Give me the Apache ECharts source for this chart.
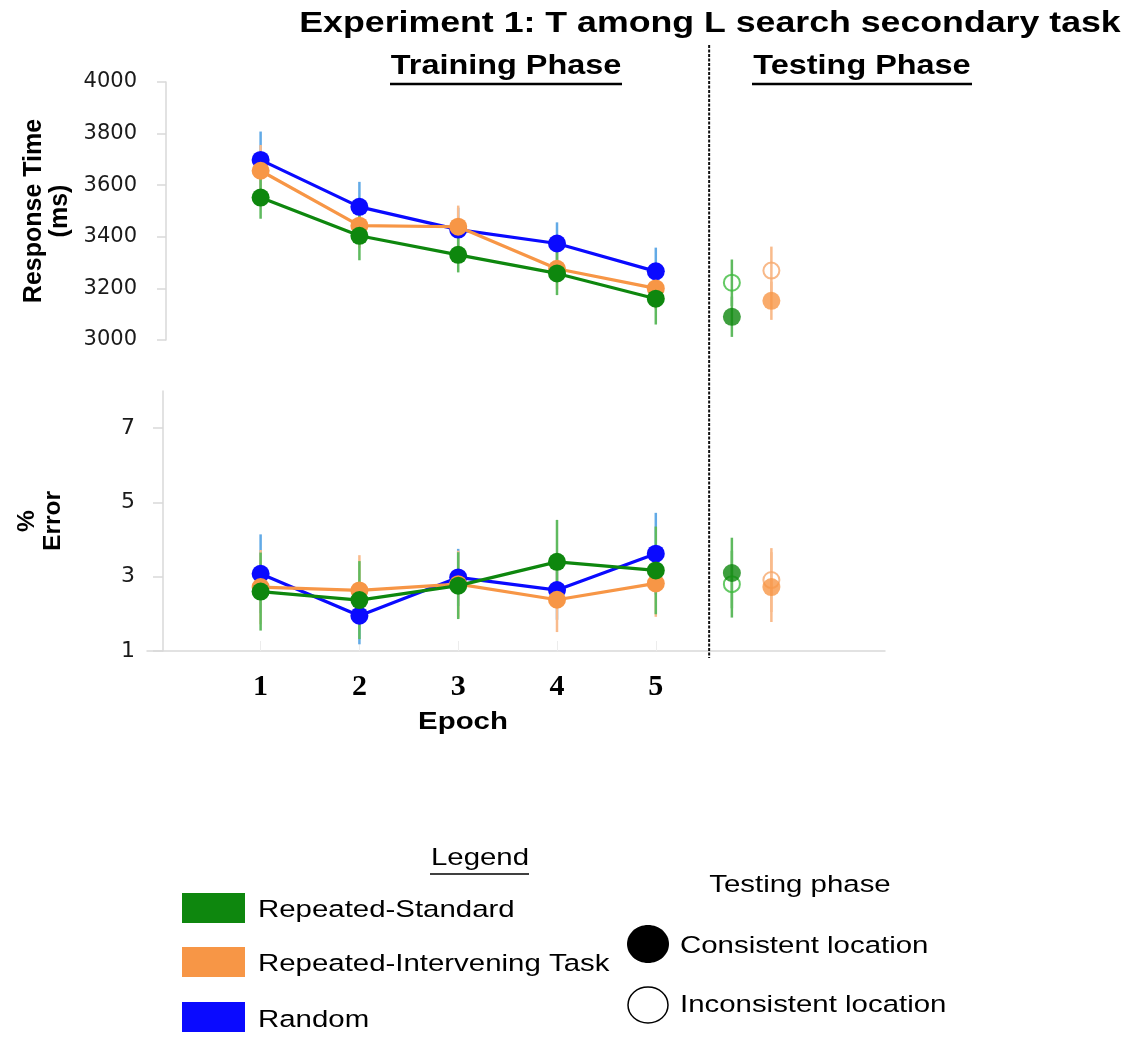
<!DOCTYPE html>
<html>
<head>
<meta charset="utf-8">
<script src="https://cdn.jsdelivr.net/npm/echarts@6/dist/echarts.min.js"></script>
<style>
  html, body { margin: 0; padding: 0; background: #ffffff; }
  #chart { width: 1134px; height: 1038px; }
</style>
</head>
<body>
<div id="chart"></div>
<script>
// ---- data ------------------------------------------------------------
const epochs = [1, 2, 3, 4, 5];

// Training phase: mean response time (ms) with error-bar half widths
const rtStandard        = [3552, 3404, 3330, 3258, 3160];
const rtStandardErr     = [82, 95, 68, 84, 100];
const rtIntervening     = [3656, 3443, 3439, 3276, 3200];
const rtInterveningErr  = [100, 85, 82, 80, 80];
const rtRandom          = [3698, 3516, 3428, 3374, 3266];
const rtRandomErr       = [110, 97, 85, 82, 92];

// Training phase: % error with error-bar half widths
const errStandard       = [2.6, 2.37, 2.76, 3.4, 3.17];
const errStandardErr    = [1.05, 1.05, 0.9, 1.13, 1.18];
const errIntervening    = [2.72, 2.63, 2.8, 2.38, 2.82];
const errInterveningErr = [1.0, 0.95, 0.9, 0.87, 0.9];
const errRandom         = [3.08, 1.95, 2.98, 2.64, 3.62];
const errRandomErr      = [1.06, 0.77, 0.77, 0.8, 1.1];

// Testing phase: [Repeated-Standard, Repeated-Intervening Task]
const testRtConsistent         = [3090, 3152];
const testRtConsistentErr      = [78, 74];
const testRtInconsistent       = [3222, 3269];
const testRtInconsistentErr    = [90, 93];
const testErrConsistent        = [3.1, 2.72];
const testErrConsistentErr     = [0.95, 0.94];
const testErrInconsistent      = [2.8, 2.91];
const testErrInconsistentErr   = [0.9, 0.86];

const errTicks = [1, 3, 5, 7];

// ---- layout / style ----------------------------------------------------
const TEST_X = [5.77, 6.17];      // x slots of the two testing-phase groups
const PHASE_DIVIDER = 5.54;       // x of the training/testing separator
const X_MIN = -0.15, X_MAX = 7.32;

const COL = {
  standard: '#0e870e', standardBar: '#5fba5f', standardOpen: '#3dbb3d',
  intervening: '#f79646', interveningBar: '#f9bb8c', interveningOpen: '#f6a86c',
  random: '#0a0aff', randomBar: '#62aae6'
};
const SANS = '"Liberation Sans", Arial, sans-serif';
const TICK_FONT = '"DejaVu Sans", sans-serif';
const AXIS_GREY = '#d9d9d9';

function pairs(xs, ys) { return ys.map((v, i) => [xs[i], v]); }
function triples(xs, ys, es) { return ys.map((v, i) => [xs[i], v, es[i]]); }

function errorBars(grid, data, colors, z) {
  return {
    type: 'custom', xAxisIndex: grid, yAxisIndex: grid, z: z, silent: true,
    data: data, encode: { x: 0, y: 1 },
    renderItem: function (params, api) {
      const x = api.value(0), y = api.value(1), e = api.value(2);
      const a = api.coord([x, y + e]), b = api.coord([x, y - e]);
      const c = Array.isArray(colors) ? colors[params.dataIndex] : colors;
      return { type: 'line', shape: { x1: a[0], y1: a[1], x2: b[0], y2: b[1] },
               style: { stroke: c, lineWidth: 2.5 } };
    }
  };
}

function trainLine(grid, name, ys, color, z) {
  return {
    type: 'line', name: name, xAxisIndex: grid, yAxisIndex: grid, z: z,
    data: pairs(epochs, ys), symbol: 'circle', symbolSize: 18, showSymbol: true,
    lineStyle: { color: color, width: 3.2 }, itemStyle: { color: color }, silent: true
  };
}

function testPoints(grid, ys, colors, open, z) {
  return {
    type: 'scatter', xAxisIndex: grid, yAxisIndex: grid, z: z, silent: true,
    symbol: 'circle', symbolSize: open ? 16 : 18,
    data: ys.map((v, i) => ({
      value: [TEST_X[i], v],
      itemStyle: open ? { color: 'transparent', borderColor: colors[i], borderWidth: 2 }
                      : { color: colors[i] }
    }))
  };
}

const chart = echarts.init(document.getElementById('chart'), null, { renderer: 'canvas' });

const xAxisBase = { type: 'value', min: X_MIN, max: X_MAX };

chart.setOption({
  animation: false,
  backgroundColor: '#ffffff',
  grid: [
    { left: 147, right: 249, top: 82, height: 258 },
    { left: 147, right: 249, top: 391, height: 260 }
  ],
  xAxis: [
    Object.assign({ gridIndex: 0, show: false }, xAxisBase),
    Object.assign({
      gridIndex: 1,
      axisLine: { show: true, lineStyle: { color: AXIS_GREY, width: 1.5 } },
      axisTick: { show: true, inside: true, length: 10, customValues: epochs,
                  lineStyle: { color: '#ececec', width: 1 } },
      axisLabel: { customValues: epochs, margin: 21,
                   fontFamily: '"Liberation Serif", "Times New Roman", serif',
                   fontWeight: 'bold', fontSize: 30, color: '#000' },
      splitLine: { show: false }
    }, xAxisBase)
  ],
  yAxis: [
    {
      gridIndex: 0, type: 'value', min: 3000, max: 4000, interval: 200, offset: -19,
      axisLine: { show: true, lineStyle: { color: AXIS_GREY, width: 1.5 } },
      axisTick: { show: true, length: 9, lineStyle: { color: AXIS_GREY, width: 1.5 } },
      axisLabel: { margin: 29, fontFamily: TICK_FONT, fontSize: 21, color: '#1a1a1a',
                   formatter: v => String(v) },
      splitLine: { show: false }
    },
    {
      gridIndex: 1, type: 'value', min: 1, max: 8, offset: -16,
      axisLine: { show: true, lineStyle: { color: AXIS_GREY, width: 1.5 } },
      axisTick: { show: true, length: 10, customValues: errTicks,
                  lineStyle: { color: AXIS_GREY, width: 1.5 } },
      axisLabel: { customValues: errTicks, margin: 28, fontFamily: TICK_FONT,
                   fontSize: 22, color: '#1a1a1a' },
      splitLine: { show: false }
    }
  ],
  series: [
    // response time panel
    errorBars(0, triples(epochs, rtRandom, rtRandomErr), COL.randomBar, 1),
    errorBars(0, triples(epochs, rtIntervening, rtInterveningErr), COL.interveningBar, 1),
    errorBars(0, triples(epochs, rtStandard, rtStandardErr), COL.standardBar, 1),
    errorBars(0, triples(TEST_X, testRtInconsistent, testRtInconsistentErr),
              [COL.standardBar, COL.interveningBar], 1),
    errorBars(0, triples(TEST_X, testRtConsistent, testRtConsistentErr),
              [COL.standardBar, COL.interveningBar], 1),
    trainLine(0, 'Random', rtRandom, COL.random, 2),
    trainLine(0, 'Repeated-Intervening Task', rtIntervening, COL.intervening, 3),
    trainLine(0, 'Repeated-Standard', rtStandard, COL.standard, 4),
    testPoints(0, testRtInconsistent, [COL.standardOpen, COL.interveningOpen], true, 5),
    testPoints(0, testRtConsistent, [COL.standard, COL.intervening], false, 6),

    // % error panel
    errorBars(1, triples(epochs, errRandom, errRandomErr), COL.randomBar, 1),
    errorBars(1, triples(epochs, errIntervening, errInterveningErr), COL.interveningBar, 1),
    errorBars(1, triples(epochs, errStandard, errStandardErr), COL.standardBar, 1),
    errorBars(1, triples(TEST_X, testErrInconsistent, testErrInconsistentErr),
              [COL.standardBar, COL.interveningBar], 1),
    errorBars(1, triples(TEST_X, testErrConsistent, testErrConsistentErr),
              [COL.standardBar, COL.interveningBar], 1),
    trainLine(1, 'Random', errRandom, COL.random, 2),
    trainLine(1, 'Repeated-Intervening Task', errIntervening, COL.intervening, 3),
    trainLine(1, 'Repeated-Standard', errStandard, COL.standard, 4),
    testPoints(1, testErrInconsistent, [COL.standardOpen, COL.interveningOpen], true, 5),
    testPoints(1, testErrConsistent, [COL.standard, COL.intervening], false, 6)
  ]
});

// ---- titles, divider and legend ------------------------------------------
const dividerX = chart.convertToPixel({ xAxisIndex: 1 }, PHASE_DIVIDER);

function label(text, x, y, size, opts) {
  opts = opts || {};
  return {
    type: 'text', x: x, y: y, z: 10, silent: true,
    rotation: opts.rotation || 0, scaleX: opts.scaleX || 1, scaleY: opts.scaleY || 1,
    style: {
      text: text, fill: opts.fill || '#000',
      font: (opts.bold ? 'bold ' : '') + size + 'px ' + SANS,
      align: opts.align || 'center', verticalAlign: 'middle',
      lineHeight: opts.lineHeight || Math.round(size * 1.15)
    }
  };
}
function rule(x1, x2, y, w) {
  return { type: 'line', z: 10, silent: true,
           shape: { x1: x1, y1: y, x2: x2, y2: y }, style: { stroke: '#000', lineWidth: w || 2.5 } };
}
function swatch(y, color) {
  return { type: 'rect', z: 10, silent: true, shape: { x: 182, y: y, width: 63, height: 30 },
           style: { fill: color } };
}

chart.setOption({
  graphic: [
    { type: 'line', z: 10, silent: true,
      shape: { x1: dividerX, y1: 45, x2: dividerX, y2: 658 },
      style: { stroke: '#111', lineWidth: 2, lineDash: [3, 1.5] } },

    label('Experiment 1: T among L search secondary task', 710, 24, 30, { bold: true, scaleX: 1.19 }),
    label('Training Phase', 506, 67, 27, { bold: true, scaleX: 1.2 }),
    rule(390, 622, 84),
    label('Testing Phase', 862, 67, 27, { bold: true, scaleX: 1.2 }),
    rule(752, 972, 84),

    label('Response Time\n(ms)', 47, 211, 25, { bold: true, rotation: Math.PI / 2, lineHeight: 26 }),
    label('%\nError', 40, 521, 24.5, { bold: true, rotation: Math.PI / 2, lineHeight: 26 }),
    label('Epoch', 463, 722, 24.5, { bold: true, scaleX: 1.2 }),

    label('Legend', 480, 858, 24.5, { scaleX: 1.2 }),
    rule(430, 529, 874, 1.5),
    swatch(893, COL.standard),
    swatch(947, COL.intervening),
    swatch(1002, COL.random),
    label('Repeated-Standard', 258, 910, 24.5, { align: 'left', scaleX: 1.2 }),
    label('Repeated-Intervening Task', 258, 964, 24.5, { align: 'left', scaleX: 1.2 }),
    label('Random', 258, 1020, 24.5, { align: 'left', scaleX: 1.2 }),

    label('Testing phase', 800, 885, 24.5, { scaleX: 1.2 }),
    { type: 'ellipse', z: 10, silent: true, shape: { cx: 648, cy: 944, rx: 21, ry: 19 },
      style: { fill: '#000' } },
    label('Consistent location', 680, 946, 24.5, { align: 'left', scaleX: 1.2 }),
    { type: 'ellipse', z: 10, silent: true, shape: { cx: 648, cy: 1005, rx: 20, ry: 18 },
      style: { fill: '#fff', stroke: '#000', lineWidth: 1.5 } },
    label('Inconsistent location', 680, 1005, 24.5, { align: 'left', scaleX: 1.2 })
  ]
});
</script>
</body>
</html>
